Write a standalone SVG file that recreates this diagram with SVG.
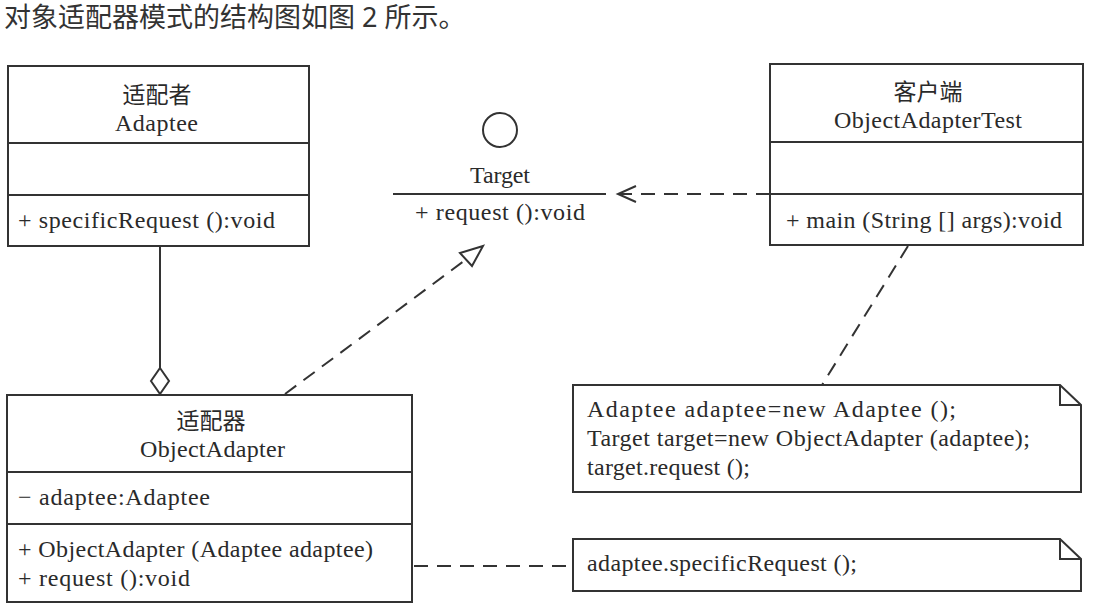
<svg xmlns="http://www.w3.org/2000/svg" width="1094" height="612" viewBox="0 0 1094 612">
<style>
.box{fill:#fff;stroke:#333;stroke-width:2}
.ln{stroke:#333;stroke-width:2;fill:none}
.dash{stroke:#333;stroke-width:2;fill:none;stroke-dasharray:14 9}
.t{font-family:"Liberation Serif","Noto Sans CJK SC",serif;font-size:24px;fill:#2a2a2a}
.cj{font-family:"Noto Sans CJK SC",sans-serif;font-size:23px;fill:#2a2a2a}
.c{text-anchor:middle}
.h{font-family:"Noto Sans","Noto Sans CJK SC",sans-serif;font-size:27px;fill:#333}
</style>
<rect width="1094" height="612" fill="#fff"/>
<text class="h" x="4" y="27">对象适配器模式的结构图如图 2 所示。</text>

<g id="connectors">
  <line class="ln" x1="160" y1="246" x2="160" y2="368"/>
  <polygon points="160,368 169,381 160,394 151,381" fill="#fff" stroke="#333" stroke-width="2"/>
  <line class="dash" x1="285" y1="394" x2="468" y2="258"/>
  <polygon points="483,246 460,253 472,266" fill="#fff" stroke="#333" stroke-width="2"/>
  <line class="dash" x1="770" y1="194" x2="620" y2="194"/>
  <polyline class="ln" points="636,186 618,194 636,202"/>
  <line class="dash" x1="908" y1="246" x2="822" y2="385"/>
  <line class="dash" x1="414" y1="566" x2="573" y2="566"/>
</g>

<g id="adaptee">
  <rect class="box" x="8" y="66" width="301" height="180"/>
  <line class="ln" x1="8" y1="143" x2="309" y2="143"/>
  <line class="ln" x1="8" y1="195" x2="309" y2="195"/>
  <text class="cj c" x="157" y="103">适配者</text>
  <text class="t" x="115" y="131" textLength="83" lengthAdjust="spacing">Adaptee</text>
  <text class="t" x="18" y="228" textLength="257" lengthAdjust="spacing">+ specificRequest ():void</text>
</g>

<g id="target">
  <circle cx="500" cy="130" r="17" fill="#fff" stroke="#333" stroke-width="2"/>
  <text class="t" x="470" y="183" textLength="60" lengthAdjust="spacing">Target</text>
  <line class="ln" x1="393" y1="194" x2="606" y2="194"/>
  <text class="t" x="415" y="220" textLength="170" lengthAdjust="spacing">+ request ():void</text>
</g>

<g id="client">
  <rect class="box" x="770" y="64" width="313" height="181"/>
  <line class="ln" x1="770" y1="142" x2="1083" y2="142"/>
  <line class="ln" x1="770" y1="194" x2="1083" y2="194"/>
  <text class="cj c" x="928" y="100">客户端</text>
  <text class="t" x="834" y="128" textLength="188" lengthAdjust="spacing">ObjectAdapterTest</text>
  <text class="t" x="786" y="228" textLength="276" lengthAdjust="spacing">+ main (String [] args):void</text>
</g>

<g id="objectAdapter">
  <rect class="box" x="7" y="395" width="405" height="207"/>
  <line class="ln" x1="7" y1="472" x2="412" y2="472"/>
  <line class="ln" x1="7" y1="524" x2="412" y2="524"/>
  <text class="cj c" x="211" y="429">适配器</text>
  <text class="t" x="140" y="457" textLength="145" lengthAdjust="spacing">ObjectAdapter</text>
  <text class="t" x="18" y="505" textLength="192" lengthAdjust="spacing">− adaptee:Adaptee</text>
  <text class="t" x="18" y="557" textLength="355" lengthAdjust="spacing">+ ObjectAdapter (Adaptee adaptee)</text>
  <text class="t" x="18" y="586" textLength="172" lengthAdjust="spacing">+ request ():void</text>
</g>

<g id="note1">
  <path class="box" d="M573,385 H1060 L1081,405 V492 H573 Z"/>
  <polyline class="ln" points="1060,385 1060,405 1081,405"/>
  <text class="t" x="587" y="417" textLength="369" lengthAdjust="spacing">Adaptee adaptee=new Adaptee ();</text>
  <text class="t" x="587" y="446" textLength="443" lengthAdjust="spacing">Target target=new ObjectAdapter (adaptee);</text>
  <text class="t" x="587" y="475" textLength="163" lengthAdjust="spacing">target.request ();</text>
</g>

<g id="note2">
  <path class="box" d="M573,539 H1060 L1081,559 V591 H573 Z"/>
  <polyline class="ln" points="1060,539 1060,559 1081,559"/>
  <text class="t" x="587" y="571" textLength="270" lengthAdjust="spacing">adaptee.specificRequest ();</text>
</g>
</svg>
